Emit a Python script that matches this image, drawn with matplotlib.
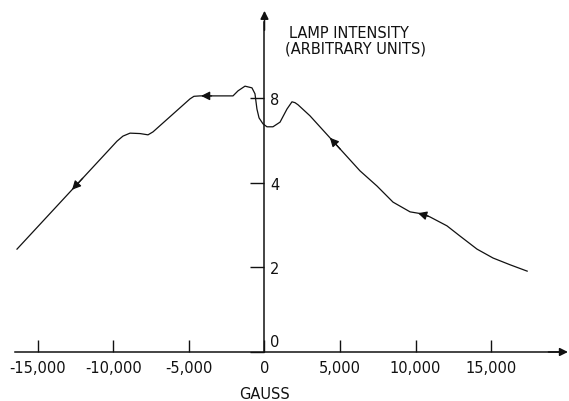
import numpy as np
import matplotlib
matplotlib.use("Agg")
import matplotlib.pyplot as plt
from matplotlib.transforms import ScaledTranslation

# ---- data ----
gauss = [-16385, -10230, -9765, -9370, -8900, -8240, -7710, -7380, -4930,
         -4670, -4270, -2085, -1750, -1290, -830, -630, -500, -360, -100,
         165, 560, 1030, 1490, 1820, 2020, 2220, 3010, 6320, 7450, 8510,
         9640, 10490, 10960, 12080, 12940, 14070, 15130, 16260, 17390]
intensity = [2.43, 4.80, 4.98, 5.10, 5.17, 5.16, 5.13, 5.20, 5.98,
             6.04, 6.05, 6.05, 6.17, 6.28, 6.24, 6.10, 5.74, 5.53, 5.39,
             5.32, 5.32, 5.43, 5.74, 5.91, 5.89, 5.84, 5.58, 4.28, 3.92, 3.54,
             3.31, 3.26, 3.19, 2.98, 2.74, 2.43, 2.22, 2.06, 1.91]
arrow_gauss = [-12740, -4200, 4330, 10160]   # sweep-direction arrowheads

x_ticks = [-15000, -10000, -5000, 0, 5000, 10000, 15000]
x_tick_labels = ['-15,000', '-10,000', '-5,000', '0', '5,000', '10,000', '15,000']
y_ticks = [0, 2, 4, 6]
y_tick_labels = ['0', '2', '4', '8']

plt.rcParams['font.family'] = ['DejaVu Sans']

fig = plt.figure(figsize=(5.69, 4.02), dpi=100)
ax = fig.add_axes([0, 0, 1, 1])
ax.set_xlim(-17510, 20160)
ax.set_ylim(-1.158, 8.339)
ax.patch.set_alpha(0)

# axes through the origin
for s in ['top', 'left']:
    ax.spines[s].set_visible(False)
ax.spines['bottom'].set_position(('data', 0))
ax.spines['right'].set_position(('data', 0))
ax.spines['bottom'].set_bounds(-16500, 19800)
ax.spines['right'].set_bounds(0, 7.8)
for s in ['bottom', 'right']:
    ax.spines[s].set_linewidth(1.1)
    ax.spines[s].set_color('#111111')

ax.xaxis.set_ticks_position('bottom')
ax.yaxis.tick_right()
ax.set_xticks(x_ticks)
ax.set_xticklabels(x_tick_labels)
ax.set_yticks(y_ticks)
ax.set_yticklabels(y_tick_labels)
ax.tick_params(axis='x', direction='in', length=9, width=1, pad=6,
               labelsize=10.5, colors='#111111')
ax.tick_params(axis='y', direction='in', length=10, width=1, pad=4,
               labelsize=10.5, colors='#111111')
# shift the y "0" label up off the axis line
lab0 = ax.get_yticklabels()[0]
lab0.set_transform(lab0.get_transform() + ScaledTranslation(0, 12 / 100, fig.dpi_scale_trans))

# axis arrowheads
ax.annotate('', xy=(20090, 0), xytext=(18800, 0),
            arrowprops=dict(arrowstyle='-|>', color='#111111', lw=1.1,
                            mutation_scale=12, shrinkA=0, shrinkB=0),
            annotation_clip=False)
ax.annotate('', xy=(0, 8.06), xytext=(0, 7.6),
            arrowprops=dict(arrowstyle='-|>', color='#111111', lw=1.1,
                            mutation_scale=12, shrinkA=0, shrinkB=0),
            annotation_clip=False)

# curve
ax.plot(gauss, intensity, color='#111111', lw=0.9, solid_joinstyle='round')

# direction arrowheads along the curve (pointing toward decreasing field)
for gx in arrow_gauss:
    gy = np.interp(gx, gauss, intensity)
    gx2 = gx + 700
    gy2 = np.interp(gx2, gauss, intensity)
    ax.annotate('', xy=(gx, gy), xytext=(gx2, gy2),
                arrowprops=dict(arrowstyle='-|>', color='#111111', lw=0.9,
                                mutation_scale=13, shrinkA=0, shrinkB=0))

# texts
ax.text(1620, 7.54, 'LAMP INTENSITY', fontsize=10.5, ha='left', va='center',
        color='#111111')
ax.text(1360, 7.18, '(ARBITRARY UNITS)', fontsize=10.5, ha='left', va='center',
        color='#111111')
ax.text(0, -0.97, 'GAUSS', fontsize=10.5, ha='center', va='center',
        color='#111111')

fig.savefig('out.png', dpi=100, facecolor='white')
